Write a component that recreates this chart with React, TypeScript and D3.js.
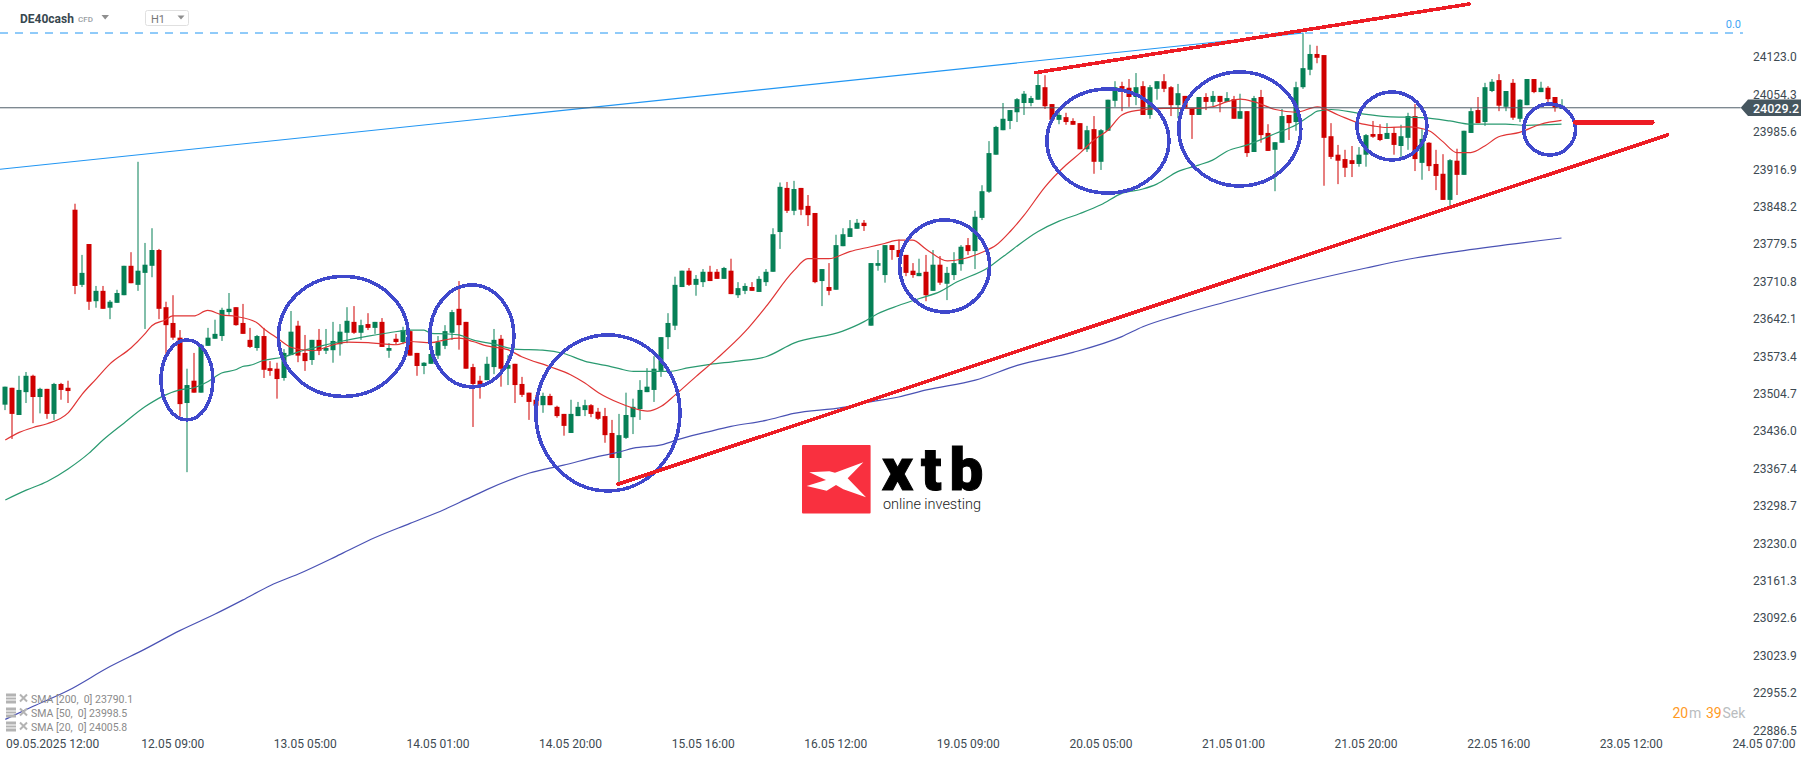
import React from 'react';
import * as d3 from 'd3';

const opens = [23484,23515,23465,23507,23537,23498,23513,23467,23522,23515,
23842,23704,23779,23674,23693,23662,23671,23685,23739,23704,
23726,23739,23768,23663,23634,23607,23487,23528,23506,23592,
23605,23610,23654,23663,23634,23603,23588,23610,23551,23550,
23533,23575,23629,23579,23566,23603,23583,23584,23595,23616,
23636,23616,23632,23625,23636,23583,23605,23599,23619,23579,
23555,23559,23574,23592,
23616,23660,23636,23553,23528,23529,23553,23605,23550,23559,
23522,23506,23493,23483,23500,23480,23467,23432,23463,23474,
23483,23471,23463,23432,23386,23423,23461,23476,23507,23511,
23546,23608,23629,23700,23730,23704,23709,23728,23728,23715,
23730,23685,23693,23700,23691,23709,23728,23801,23882,23840,
23882,23849,23836,23711,23700,23695,23775,23792,23807,23818,
23629,23739,23722,23777,23768,23759,23730,23720,23728,23693,
23741,23706,23722,23742,23777,23766,23827,23875,23943,23988,
24005,24021,24038,24038,24044,24067,24036,24007,24012,24005,
24001,23953,23990,23930,23987,24042,24069,24066,24049,24069,
24016,24064,24078,24067,24034,24051,24029,24016,24049,24040,
24051,24040,24045,24009,24023,23948,24049,23983,23952,23965,
24016,24003,24067,24099,24128,24126,23977,23943,23935,23933,
23926,23943,23981,23981,23972,23983,23959,23974,24014,23928,
23965,23926,23908,23860,23932,23906,23983,24025,24003,24060,
24080,24031,24075,24009,24034,24082,24058,24066,24049,24027];

const closes = [23517,23467,23511,23537,23498,23513,23467,23522,23511,23509,
23702,23726,23673,23693,23660,23673,23689,23739,23707,23730,
23741,23768,23660,23630,23607,23485,23520,23506,23594,23607,
23614,23658,23660,23630,23614,23590,23610,23548,23546,23531,
23579,23618,23574,23564,23603,23583,23588,23601,23618,23638,
23616,23630,23625,23636,23590,23588,23599,23621,23574,23555,
23561,23577,23599,23619,
23654,23630,23550,23522,23520,23559,23603,23550,23557,23520,
23502,23489,23482,23500,23483,23463,23445,23467,23480,23483,
23467,23458,23428,23386,23428,23465,23480,23511,23517,23550,
23608,23634,23704,23730,23704,23715,23728,23711,23715,23735,
23687,23698,23702,23693,23715,23728,23797,23884,23840,23880,
23842,23832,23709,23733,23693,23777,23797,23808,23818,23812,
23744,23744,23777,23768,23755,23726,23722,23726,23685,23741,
23708,23726,23744,23774,23766,23829,23876,23946,23994,24009,
24025,24045,24055,24047,24071,24032,24007,24016,24003,23998,
23953,23988,23930,23988,24044,24067,24064,24049,24067,24016,
24067,24078,24064,24034,24056,24029,24016,24049,24040,24051,
24040,24047,24009,24023,23946,24047,23979,23950,23966,24014,
24001,24067,24102,24128,24121,23974,23939,23932,23919,23926,
23943,23979,23976,23970,23983,23961,23977,24014,23935,23972,
23922,23904,23860,23933,23906,23987,24023,24001,24067,24077,
24033,24060,24011,24044,24082,24058,24066,24045,24029,24033];

const highs = [23517,23515,23537,23544,23539,23515,23513,23524,23524,23528,
23853,23759,23779,23702,23702,23676,23695,23739,23764,23930,
23781,23808,23770,23673,23685,23621,23550,23579,23595,23625,
23640,23662,23689,23663,23669,23625,23612,23625,23564,23561,
23586,23656,23638,23612,23603,23623,23623,23636,23632,23663,
23665,23640,23652,23636,23643,23597,23614,23627,23621,23579,
23562,23577,23610,23630,
23658,23711,23636,23559,23537,23572,23623,23612,23575,23559,
23535,23506,23502,23506,23504,23482,23467,23493,23489,23493,
23485,23478,23478,23456,23467,23506,23495,23529,23551,23573,
23608,23652,23719,23730,23735,23722,23733,23739,23733,23737,
23752,23709,23707,23709,23720,23733,23808,23892,23893,23895,
23882,23869,23836,23733,23744,23796,23808,23823,23825,23823,
23744,23768,23777,23777,23787,23759,23744,23752,23759,23768,
23757,23737,23764,23777,23790,23840,23887,23968,23996,24038,
24025,24047,24060,24051,24093,24089,24036,24027,24020,24010,
24001,23996,24014,23990,24044,24078,24077,24082,24093,24078,
24071,24078,24091,24069,24073,24051,24029,24049,24056,24060,
24051,24058,24051,24055,24023,24051,24062,23999,23966,24027,
24016,24077,24166,24145,24143,24126,24001,23961,23952,23959,
23957,23981,24005,23999,24001,23994,23998,24020,24036,23990,
23966,23952,23944,23935,23954,23987,24029,24049,24075,24082,
24091,24060,24082,24045,24082,24082,24077,24069,24049,24045];

const lows = [23474,23421,23465,23487,23450,23468,23458,23456,23493,23487,
23687,23700,23658,23662,23660,23641,23671,23685,23707,23693,
23623,23718,23641,23575,23603,23462,23360,23506,23506,23592,
23605,23601,23649,23629,23614,23588,23583,23533,23537,23495,
23528,23575,23562,23546,23557,23575,23577,23561,23574,23597,
23614,23603,23621,23614,23590,23570,23594,23595,23574,23537,
23540,23559,23568,23586,
23603,23585,23550,23443,23495,23529,23540,23517,23520,23487,
23498,23456,23482,23469,23483,23460,23427,23432,23463,23463,
23461,23456,23414,23386,23337,23421,23430,23456,23507,23489,
23535,23586,23621,23700,23702,23684,23700,23711,23715,23715,
23687,23680,23687,23693,23691,23702,23728,23770,23836,23832,
23832,23812,23707,23665,23685,23695,23775,23792,23807,23803,
23629,23730,23708,23750,23755,23720,23717,23720,23674,23693,
23704,23676,23713,23730,23759,23733,23823,23873,23943,23988,
23990,24003,24016,24032,24044,24027,24007,23999,23998,23998,
23953,23948,23908,23915,23987,24031,24023,24031,24034,24016,
24009,24044,24058,24014,24010,24029,23972,24016,24025,24032,
24021,24040,24009,24009,23939,23948,23965,23950,23876,23965,
23970,23987,24064,24089,24111,23886,23935,23889,23902,23902,
23921,23921,23974,23968,23972,23943,23939,23952,23913,23897,
23913,23878,23860,23847,23869,23906,23983,24001,23996,24058,
24023,24023,24007,24003,24034,24056,24058,24040,24022,24027];

const sma20Index = [0,2,4,6,9,11,13,15,18,20,21,23,24,27,29,31,33,36,37,39,41,44,47,49,52,56,58,61,63,65,67,69,72,74,78,81,83,85,88,91,92,94,96,99,102,106,109,113,115,118,121,124,126,128,130,132,135,137,140,142,144,146,149,152,154,156,158,160,162,166,170,173,175,177,179,182,185,188,191,194,196,198,201,204,206,208,210,212,214,217,220,223];
const sma20Value = [23419,23433,23442,23449,23469,23503,23531,23559,23588,23614,23629,23640,23647,23647,23657,23649,23646,23635,23624,23606,23589,23583,23594,23599,23598,23594,23600,23598,23603,23606,23600,23592,23585,23572,23554,23539,23524,23506,23487,23474,23472,23481,23502,23536,23569,23618,23664,23730,23752,23752,23765,23774,23780,23786,23786,23769,23748,23751,23764,23777,23802,23832,23884,23924,23946,23970,23988,24016,24024,24028,24028,24031,24040,24045,24040,24026,24021,24031,24016,24001,23996,23993,23994,23987,23967,23947,23947,23959,23976,23984,23999,24006];

const sma50Index = [0,3,6,9,12,14,17,20,23,25,27,29,31,33,34,35,37,40,42,45,48,52,55,58,60,61,63,65,67,70,73,77,80,83,86,88,90,95,98,101,105,109,113,120,123,125,128,131,134,136,141,143,148,151,154,157,160,163,165,168,171,173,175,178,182,185,187,188,190,194,198,203,207,210,215,218,223];
const sma50Value = [23309,23327,23343,23366,23395,23419,23450,23480,23502,23511,23515,23526,23542,23548,23554,23556,23565,23572,23581,23591,23600,23610,23616,23621,23621,23615,23614,23612,23603,23595,23586,23584,23578,23564,23556,23550,23545,23545,23552,23558,23564,23572,23597,23619,23636,23651,23666,23679,23692,23707,23737,23756,23802,23821,23835,23851,23872,23880,23889,23912,23924,23933,23949,23961,23982,23998,24015,24023,24026,24019,24013,24011,24005,23999,23999,23997,23999];

const sma200Index = [0,4,9,15,20,25,30,34,38,42,48,53,58,63,66,69,73,75,80,85,88,90,94,97,101,104,109,113,120,123,128,132,139,145,153,160,163,168,175,180,187,195,201,209,223];
const sma200Value = [22906,22930,22959,23003,23035,23069,23099,23125,23152,23173,23209,23240,23266,23292,23310,23328,23349,23358,23373,23389,23397,23404,23410,23422,23435,23444,23455,23468,23479,23487,23498,23511,23529,23556,23580,23609,23627,23648,23673,23690,23712,23735,23751,23767,23790];

const yTicks = [24123.0,24054.3,23985.6,23916.9,23848.2,23779.5,23710.8,23642.1,23573.4,23504.7,23436.0,23367.4,23298.7,23230.0,23161.3,23092.6,23023.9,22955.2,22886.5];
const xTickIndex = [5,24,43,62,81,100,119,138,157,176,195,214,233,252];
const xTickLabels = ['09.05.2025  12:00','12.05  09:00','13.05  05:00','14.05  01:00','14.05  20:00','15.05  16:00','16.05  12:00','19.05  09:00','20.05  05:00','21.05  01:00','21.05  20:00','22.05  16:00','23.05  12:00','24.05  07:00'];

const lastPrice = 24029.2;
const fibLevel = 24166.5;
const fibEndIndex = 249;

const legendLabels = ['SMA [200,  0] 23790.1','SMA [50,  0] 23998.5','SMA [20,  0] 24005.8'];

// annotations drawn on the chart, in candle index / price units
const redTrendStart = [[87.8,23338],[147.6,24093.6],[225,24002.6]];
const redTrendEnd = [[238.2,23979.2],[209.8,24219.8],[236,24002.6]];
const redTrendWidth = [3.6,3.6,4.8];
const blueTrendStart = [-0.76,23916.3];
const blueTrendEnd = [186,24166.5];
const ellipseIndex = [26.03,48.45,66.86,86.35,134.6,158,176.9,198.7,221.3];
const ellipsePrice = [23529.4,23609.3,23610.2,23468.8,23738.7,23968.2,23990.3,23995.8,23989.3];
const ellipseIndexRadius = [3.72,9.31,6.02,10.32,6.45,8.74,8.74,5.01,3.72];
const ellipsePriceRadius = [73.4,110.2,93.6,143.2,84.5,95.5,104.7,62.4,46.8];

const W = 1815;
const H = 759;
const FONT = 'Roboto, sans-serif';
const UP = '#068056';
const DOWN = '#cf0000';
const AXIS = '#3d4a52';

export default function App() {
  const x = d3.scaleLinear().domain([0, 223]).range([5.3, 1561.5]);
  const y = d3.scaleLinear().domain([24123, 22886.5]).range([56.7, 730]);

  const smaLine = (ix: number[], vals: number[]) =>
    d3.line<number>()
      .x((i) => x(ix[i]))
      .y((i) => y(vals[i]))
      .curve(d3.curveMonotoneX)(ix.map((_, i) => i)) as string;

  const xPriceY = y(lastPrice);
  const tagLeft = 1740.7;
  const tagBox = 1748;
  const tagRight = 1801;
  const tagPath = d3.line()([
    [tagLeft, xPriceY],
    [tagBox, xPriceY - 8.3],
    [tagRight, xPriceY - 8.3],
    [tagRight, xPriceY + 8.3],
    [tagBox, xPriceY + 8.3],
  ]) + 'Z';

  const logoX = (z: number) => 780 + z / 3;
  const logoY = (z: number) => 430 + z / 3;
  const logoShape = d3.line()(
    [[88,127],[148,124],[165,128],[250,97],[203,145],[258,202],[190,178],[168,165],[140,182],[80,168],[138,150]]
      .map(([a, b]) => [logoX(a), logoY(b)] as [number, number])
  ) + 'Z';

  return (
    <svg width={W} height={H} viewBox={`0 0 ${W} ${H}`}
      style={{ position: 'absolute', left: 0, top: 0, display: 'block', background: '#fff', fontFamily: FONT }}>
      {/* candles */}
      <g>
        {opens.map((o, i) => {
          const c = closes[i];
          const col = c >= o ? UP : DOWN;
          const cx = Math.round(x(i));
          const top = y(Math.max(o, c));
          const bot = y(Math.min(o, c));
          return (
            <g key={i}>
              <rect x={cx - 0.5} y={y(highs[i])} width={1} height={y(lows[i]) - y(highs[i])} fill={col} />
              <rect x={cx - 2.5} y={top} width={5} height={Math.max(1, bot - top)} fill={col} />
            </g>
          );
        })}
      </g>

      {/* moving averages */}
      <path d={smaLine(sma200Index, sma200Value)} fill="none" stroke="#4a52b4" strokeWidth={1.2} />
      <path d={smaLine(sma50Index, sma50Value)} fill="none" stroke="#2a9a70" strokeWidth={1.2} />
      <path d={smaLine(sma20Index, sma20Value)} fill="none" stroke="#e03535" strokeWidth={1.2} />

      {/* fib level and sloped line */}
      <line x1={0} x2={x(fibEndIndex)} y1={y(fibLevel)} y2={y(fibLevel)} stroke="#2196f3" strokeWidth={1} strokeDasharray="8 7" />
      <text x={1741} y={y(fibLevel) - 8} textAnchor="end" dominantBaseline="middle" fontSize={11} fill="#42a5f5">0.0</text>
      <line x1={x(blueTrendStart[0])} y1={y(blueTrendStart[1])} x2={x(blueTrendEnd[0])} y2={y(blueTrendEnd[1])} stroke="#2196f3" strokeWidth={1.1} />

      {/* last price line */}
      <line x1={0} x2={tagLeft} y1={xPriceY} y2={xPriceY} stroke="#4f5f69" strokeWidth={1} />
      <path d={tagPath} fill="#46565f" />

      {/* hand drawn annotations */}
      <g fill="none" stroke="#3f48cc" strokeWidth={3.6} shapeRendering="crispEdges">
        {ellipseIndex.map((ci, i) => (
          <ellipse key={i} cx={x(ci)} cy={y(ellipsePrice[i])}
            rx={x(ci + ellipseIndexRadius[i]) - x(ci)}
            ry={y(ellipsePrice[i] - ellipsePriceRadius[i]) - y(ellipsePrice[i])} />
        ))}
      </g>
      <g stroke="#ed1c24" strokeLinecap="round" shapeRendering="crispEdges">
        {redTrendStart.map((s, i) => (
          <line key={i} x1={x(s[0])} y1={y(s[1])} x2={x(redTrendEnd[i][0])} y2={y(redTrendEnd[i][1])} strokeWidth={redTrendWidth[i]} />
        ))}
      </g>

      {/* y axis */}
      <g fontSize={12} fill={AXIS} dominantBaseline="middle">
        {yTicks.map((t) => (
          <text key={t} x={1753} y={y(t) + 1.5}>{t.toFixed(1)}</text>
        ))}
      </g>
      <text x={1753} y={xPriceY + 1.5} fontSize={12.5} fontWeight={500} fill="#fff" dominantBaseline="middle">{lastPrice.toFixed(1)}</text>

      {/* x axis */}
      <g fontSize={12} fill={AXIS} dominantBaseline="middle" style={{ whiteSpace: 'pre' }}>
        {xTickIndex.map((t, i) => (
          i === 0
            ? <text key={t} x={6} y={745}>{xTickLabels[i]}</text>
            : <text key={t} x={x(t)} y={745} textAnchor="middle">{xTickLabels[i]}</text>
        ))}
      </g>

      {/* legend */}
      <g>
        {legendLabels.map((l, i) => {
          const ly = 699.5 + i * 14;
          return (
            <g key={l}>
              <g fill="#b3b3b3">
                <rect x={6} y={ly - 6} width={10} height={3} />
                <rect x={6} y={ly - 2} width={10} height={2} />
                <rect x={6} y={ly + 1} width={10} height={3} />
              </g>
              <path d={`M20 ${ly - 5}L27 ${ly + 2}M27 ${ly - 5}L20 ${ly + 2}`} stroke="#b3b3b3" strokeWidth={2} />
              <text x={31} y={ly + 1} fontSize={10.5} fill="#8a8a8a" dominantBaseline="middle" style={{ whiteSpace: 'pre' }}>{l}</text>
            </g>
          );
        })}
      </g>

      {/* header */}
      <text x={20} y={20} fontSize={12} fontWeight={700} fill="#37474f" dominantBaseline="middle">DE40cash</text>
      <text x={78} y={20} fontSize={8} fontWeight={500} fill="#9aa0a4" dominantBaseline="middle">CFD</text>
      <path d="M101.5 15L109 15L105.2 19.5Z" fill="#8f8f8f" />
      <rect x={145.5} y={10.5} width={43} height={15} rx={2} fill="#fff" stroke="#e0e0e0" />
      <text x={151} y={20} fontSize={11} fill="#777" dominantBaseline="middle">H1</text>
      <path d="M177.5 15.5L184.5 15.5L181 19.5Z" fill="#8f8f8f" />

      {/* countdown */}
      <g fontSize={14} dominantBaseline="middle">
        <text x={1672.5} y={714} fill="#ff9a1f">20</text>
        <text x={1689} y={714} fill="#b9bdc0">m</text>
        <text x={1706} y={714} fill="#ff9a1f">39</text>
        <text x={1722.5} y={714} fill="#b9bdc0">Sek</text>
      </g>

      {/* logo */}
      <rect x={802} y={445} width={68.6} height={68.4} rx={1} fill="#f9303f" />
      <path d={logoShape} fill="#fff" />
      <text x={882} y={490} fontSize={60} fontWeight={900} fill="#000" stroke="#000" strokeWidth={1} fontFamily="Roboto, sans-serif" letterSpacing={8}>xtb</text>
      <text x={883} y={509} fontSize={14.5} fontWeight={300} fill="#222" fontFamily="Roboto, sans-serif" textLength={98}>online investing</text>
    </svg>
  );
}
